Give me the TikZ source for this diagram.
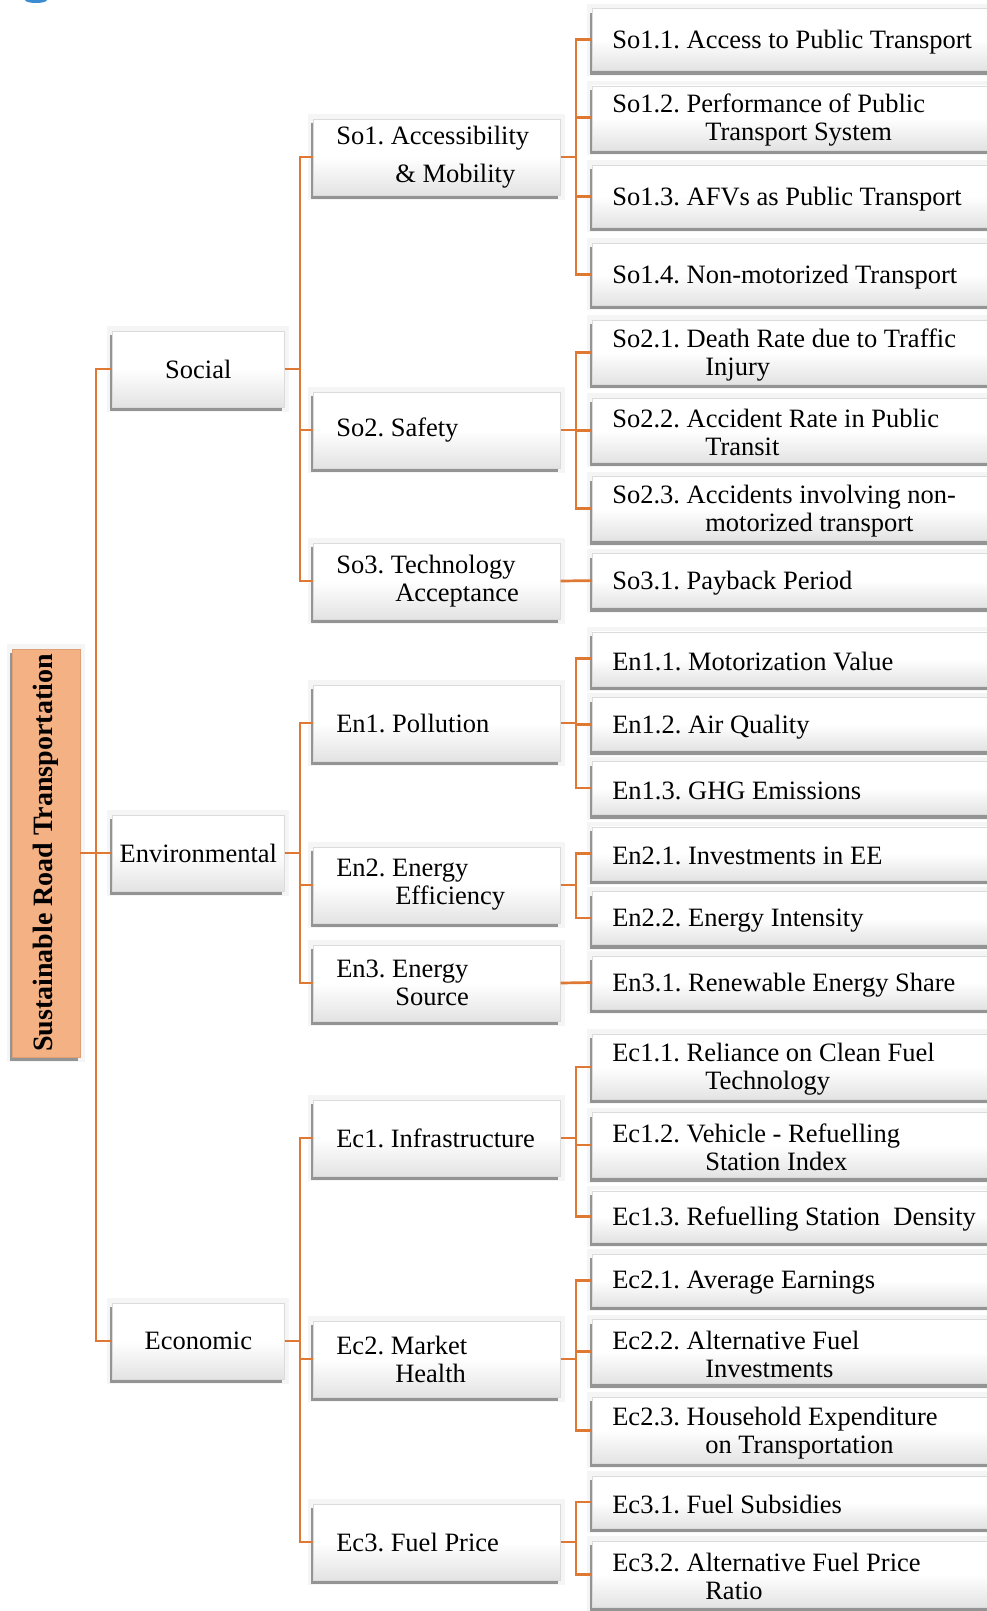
\documentclass[tikz,border=0pt]{standalone}
\usepackage{fontspec}
\setmainfont{Liberation Serif}
\usetikzlibrary{shadows}
\definecolor{lc}{RGB}{222,120,50}
\definecolor{rootc}{RGB}{244,177,131}
\definecolor{blobc}{RGB}{60,140,210}
\newcommand{\wtwo}[1]{\makebox[201pt][l]{#1}}
\newcommand{\wleaf}[1]{\raisebox{-2.5pt}[\height][\depth]{\makebox[368pt][l]{#1}}}
\frenchspacing
\begin{document}
\begin{tikzpicture}[x=1pt,y=-1pt,
  font=\fontsize{26.5}{28}\selectfont\frenchspacing,
  sh/.style={preaction={draw=black!4, line width=10pt},
             drop shadow={shadow xshift=-2pt, shadow yshift=-4pt, fill=black!42, opacity=1}},
  gbox/.style={sh, rectangle, draw=black!14, line width=0.6pt,
               top color=white, bottom color=black!11, middle color=white, inner ysep=0pt},
  lone/.style={gbox, minimum width=172pt, minimum height=76pt, anchor=west, inner xsep=0pt, align=center},
  ltwo/.style={gbox, minimum height=76pt, anchor=west, inner xsep=23pt, align=left},
  leaf/.style={gbox, minimum height=#1, anchor=west, inner xsep=20pt, align=left},
  leaf/.default=62pt,
  rootbox/.style={sh, rectangle, fill=rootc, draw=rootc!90!black, line width=0.4pt,
                  minimum width=68pt, minimum height=408pt, inner sep=0pt},
  conn/.style={draw=lc, line width=2.7pt}
]
\useasboundingbox (0,0) rectangle (987,1611);
\clip (0,0) rectangle (987,1611);
\fill[blobc] (36,0) ellipse [x radius=11, y radius=3];

% root and level 1
\node[rootbox] (root) at (46,853) {\rotatebox{90}{\fontsize{28}{30}\selectfont\bfseries Sustainable Road Transportation}};
\node[lone] (soc) at (112,369) {Social};
\node[lone] (env) at (112,853) {Environmental};
\node[lone] (eco) at (112,1341) {Economic};

% level 2
\node[ltwo] (so1) at (313,157) {\wtwo{So1. Accessibility}\\[10pt]\wtwo{\hspace*{59pt}\& Mobility}};
\node[ltwo] (so2) at (313,430) {\wtwo{So2. Safety}};
\node[ltwo] (so3) at (313,581) {\wtwo{So3. Technology}\\\wtwo{\hspace*{59pt}Acceptance}};
\node[ltwo] (en1) at (313,723) {\wtwo{En1. Pollution}};
\node[ltwo] (en2) at (313,885) {\wtwo{En2. Energy}\\\wtwo{\hspace*{59pt}Efficiency}};
\node[ltwo] (en3) at (313,983) {\wtwo{En3. Energy}\\\wtwo{\hspace*{59pt}Source}};
\node[ltwo] (ec1) at (313,1138) {\wtwo{Ec1. Infrastructure}};
\node[ltwo] (ec2) at (313,1359) {\wtwo{Ec2. Market}\\\wtwo{\hspace*{59pt}Health}};
\node[ltwo] (ec3) at (313,1542) {\wtwo{Ec3. Fuel Price}};

% leaves
\node[leaf] (so11) at (592,39.6) {\wleaf{So1.1. Access to Public Transport}};
\node[leaf=64pt] (so12) at (592,117.8) {\wleaf{So1.2. Performance of Public}\\\wleaf{\hspace*{93pt}Transport System}};
\node[leaf] (so13) at (592,196.3) {\wleaf{So1.3. AFVs as Public Transport}};
\node[leaf] (so14) at (592,274.4) {\wleaf{So1.4. Non-motorized Transport}};
\node[leaf=64pt] (so21) at (592,352.3) {\wleaf{So2.1. Death Rate due to Traffic}\\\wleaf{\hspace*{93pt}Injury}};
\node[leaf=64pt] (so22) at (592,430.4) {\wleaf{So2.2. Accident Rate in Public}\\\wleaf{\hspace*{93pt}Transit}};
\node[leaf=64pt] (so23) at (592,508.6) {\wleaf{So2.3. Accidents involving non-}\\\wleaf{\hspace*{93pt}motorized transport}};
\node[leaf=54pt] (so31) at (592,580.6) {\wleaf{So3.1. Payback Period}};
\node[leaf=54pt] (en11) at (592,658.8) {\wleaf{En1.1. Motorization Value}};
\node[leaf=53pt] (en12) at (592,724.2) {\wleaf{En1.2. Air Quality}};
\node[leaf=53pt] (en13) at (592,788) {\wleaf{En1.3. GHG Emissions}};
\node[leaf=53pt] (en21) at (592,853.4) {\wleaf{En2.1. Investments in EE}};
\node[leaf=53pt] (en22) at (592,918) {\wleaf{En2.2. Energy Intensity}};
\node[leaf=53pt] (en31) at (592,982.5) {\wleaf{En3.1. Renewable Energy Share}};
\node[leaf=65pt] (ec11) at (592,1066.9) {\wleaf{Ec1.1. Reliance on Clean Fuel}\\\wleaf{\hspace*{93pt}Technology}};
\node[leaf=65pt] (ec12) at (592,1145) {\wleaf{Ec1.2. Vehicle - Refuelling}\\\wleaf{\hspace*{93pt}Station Index}};
\node[leaf=51pt] (ec13) at (592,1216.3) {\wleaf{Ec1.3. Refuelling Station\ \ Density}};
\node[leaf=52pt] (ec21) at (592,1280.4) {\wleaf{Ec2.1. Average Earnings}};
\node[leaf=64pt] (ec22) at (592,1351.6) {\wleaf{Ec2.2. Alternative Fuel}\\\wleaf{\hspace*{93pt}Investments}};
\node[leaf=66pt] (ec23) at (592,1430.2) {\wleaf{Ec2.3. Household Expenditure}\\\wleaf{\hspace*{93pt}on Transportation}};
\node[leaf=52pt] (ec31) at (592,1502) {\wleaf{Ec3.1. Fuel Subsidies}};
\node[leaf=66pt] (ec32) at (592,1574.4) {\wleaf{Ec3.2. Alternative Fuel Price}\\\wleaf{\hspace*{93pt}Ratio}};

% connectors: root to level 1
\draw[conn] (root.east) -- (env.west);
\draw[conn] (soc.west) -- ++(-16,0) |- (eco.west);

% level 1 to level 2
\draw[conn] (soc.east) -- ++(16,0);
\draw[conn] (so1.west) -- ++(-13,0) |- (so3.west);
\draw[conn] (so2.west) -- ++(-13,0);
\draw[conn] (env.east) -- ++(16,0);
\draw[conn] (en1.west) -- ++(-13,0) |- (en3.west);
\draw[conn] (en2.west) -- ++(-13,0);
\draw[conn] (eco.east) -- ++(16,0);
\draw[conn] (ec1.west) -- ++(-13,0) |- (ec3.west);
\draw[conn] (ec2.west) -- ++(-13,0);

% level 2 to leaves
\draw[conn] (so1.east) -- ++(16,0);
\draw[conn] (so11.west) -- ++(-16,0) |- (so14.west);
\draw[conn] (so12.west) -- ++(-16,0);
\draw[conn] (so13.west) -- ++(-16,0);
\draw[conn] (so2.east) -- ++(16,0);
\draw[conn] (so21.west) -- ++(-16,0) |- (so23.west);
\draw[conn] (so22.west) -- ++(-16,0);
\draw[conn] (so3.east) -- (so31.west);
\draw[conn] (en1.east) -- ++(16,0);
\draw[conn] (en11.west) -- ++(-16,0) |- (en13.west);
\draw[conn] (en12.west) -- ++(-16,0);
\draw[conn] (en2.east) -- ++(16,0);
\draw[conn] (en21.west) -- ++(-16,0) |- (en22.west);
\draw[conn] (en3.east) -- (en31.west);
\draw[conn] (ec1.east) -- ++(16,0);
\draw[conn] (ec11.west) -- ++(-16,0) |- (ec13.west);
\draw[conn] (ec12.west) -- ++(-16,0);
\draw[conn] (ec2.east) -- ++(16,0);
\draw[conn] (ec21.west) -- ++(-16,0) |- (ec23.west);
\draw[conn] (ec22.west) -- ++(-16,0);
\draw[conn] (ec3.east) -- ++(16,0);
\draw[conn] (ec31.west) -- ++(-16,0) |- (ec32.west);
\end{tikzpicture}
\end{document}
